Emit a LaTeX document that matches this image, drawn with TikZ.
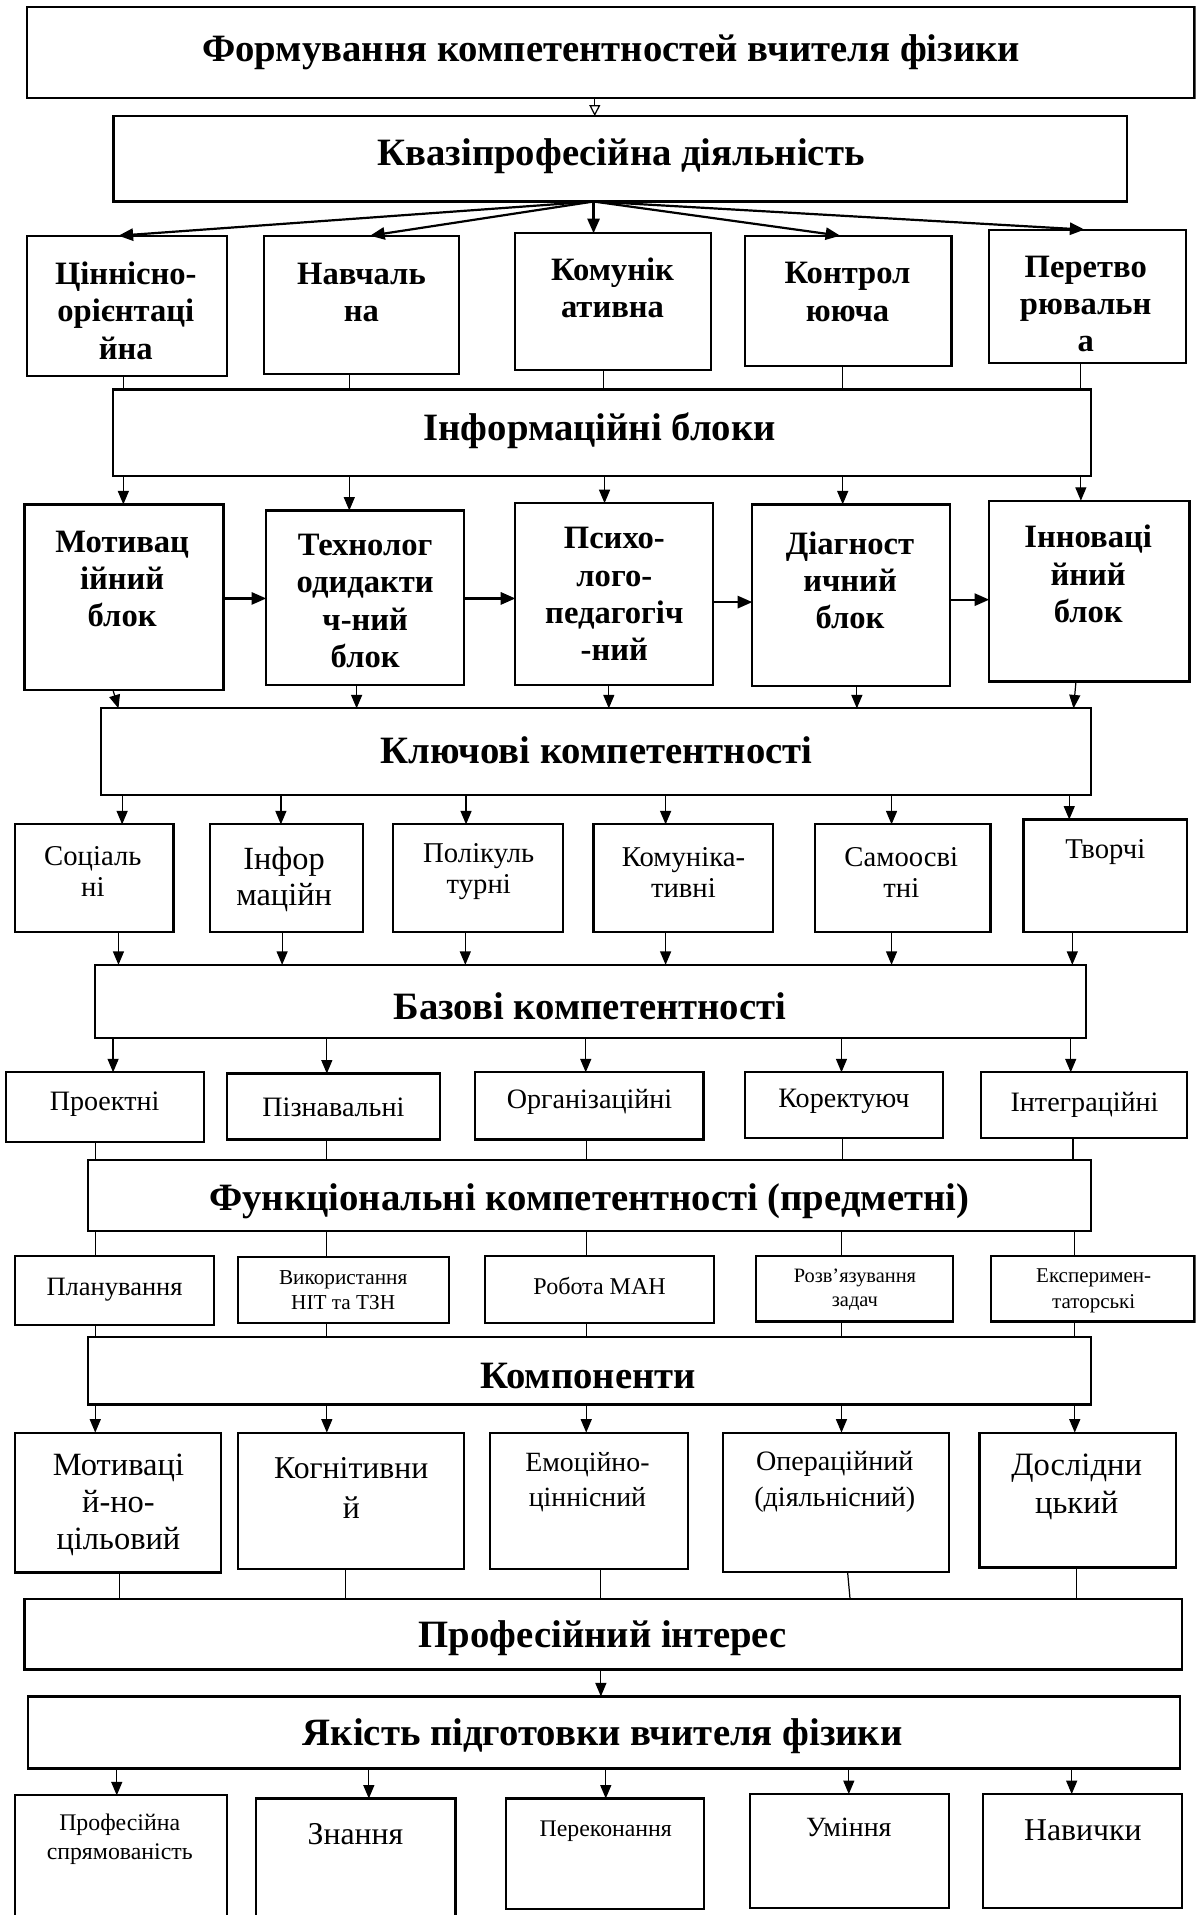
\documentclass[tikz,border=0pt]{standalone}
\usepackage{fontspec}
\setmainfont{Liberation Serif}
\usetikzlibrary{arrows.meta}
\newcommand\bx[5]{\node[box,anchor=north west,minimum width={#4-#2},minimum height={#5-#3}] (#1) at (#2,#3) {};}
\newcommand\fs[2]{\fontsize{#1}{#2}\selectfont}
\begin{document}
\begin{tikzpicture}[x=1pt,y=-1pt,
  box/.style={draw,line width=1.8pt,inner sep=0pt,outer sep=0pt},
  con/.style={line width=1pt},
  arr/.style={line width=1pt,-{Triangle[length=11pt,width=9pt]}},
  tarr/.style={line width=1.8pt,-{Triangle[length=12pt,width=10pt]}},
  oarr/.style={line width=1pt,-{Triangle[open,length=9pt,width=9pt]}},
  hd/.style={font=\fs{31.7}{38}\bfseries,inner sep=0pt},
  bt/.style={font=\fs{26.7}{30.5}\bfseries,align=center,inner sep=0pt},
  nt/.style={align=center,inner sep=0pt}]
\useasboundingbox (0,0) rectangle (979,1568);
\clip (0,0) rectangle (979,1568);
% header boxes
\bx{title}{22}{6}{978}{80}
\bx{kvazi}{93}{95}{923}{165}
\bx{info}{92.5}{319}{893}{390}
\bx{key}{83}{580}{893}{651}
\bx{base}{78}{790}{889}{850}
\bx{func}{72}{949.5}{893}{1008}
\bx{comp}{72}{1095}{893}{1150}
\bx{prof}{20}{1309}{968}{1367}
\bx{qual}{23}{1389}{966}{1448}
\node[hd] (titlet) at (500.5,43) {Формування компетентностей вчителя фізики};
\node[hd] (kvazit) at (508.5,128) {Квазіпрофесійна діяльність};
\node[hd] (infot) at (491,353) {Інформаційні блоки};
\node[hd] (keyt) at (488.5,614) {Ключові компетентності};
\node[hd] (baset) at (483,824) {Базові компетентності};
\node[hd] (funct) at (482.5,983.6) {Функціональні компетентності (предметні)};
\node[hd] (compt) at (481.5,1127) {Компоненти};
\node[hd] (proft) at (493.5,1341) {Професійний інтерес};
\node[hd] (qualt) at (493.5,1421.6) {Якість підготовки вчителя фізики};
% row 2
\bx{c1}{22}{193}{186}{308}
\bx{c2}{216}{193}{376}{306}
\bx{c3}{422}{191}{582}{303}
\bx{c4}{610}{193}{779}{300}
\bx{c5}{810}{188}{971}{297}
\node[bt] (c1t) at (103,254.5) {Ціннісно-\\орієнтаці\\йна};
\node[bt] (c2t) at (296,239.5) {Навчаль\\на};
\node[bt] (c3t) at (501.5,235.5) {Комунік\\ативна};
\node[bt] (c4t) at (694,239) {Контрол\\ююча};
\node[bt] (c5t) at (889,249) {Перетво\\рювальн\\а};
% row 4
\bx{m1}{20}{413}{183}{565}
\bx{m2}{218}{418}{380}{561}
\bx{m3}{422}{412}{584}{561}
\bx{m4}{616}{413}{778}{562}
\bx{m5}{810}{410}{974}{558}
\node[bt] (m1t) at (100,474) {Мотивац\\ійний\\блок};
\node[bt] (m2t) at (299,492) {Технолог\\одидакти\\ч-ний\\блок};
\node[bt] (m3t) at (503,486.5) {Психо-\\лого-\\педагогіч\\-ний};
\node[bt] (m4t) at (696,475) {Діагност\\ичний\\блок};
\node[bt] (m5t) at (891,470) {Інноваці\\йний\\блок};
% row 5
\bx{k1}{12.5}{675}{142}{763}
\bx{k2}{172}{675}{297}{763}
\bx{k3}{322}{675}{461}{763}
\bx{k4}{486}{675}{633}{763}
\bx{k5}{667}{675}{811}{763}
\bx{k6}{838}{671}{972}{763}
\node[nt,font=\fs{23.5}{25.5}] (k1t) at (76,713.5) {Соціаль\\ні};
\node[nt,font=\fs{26.5}{30}] (k2t) at (232.6,720) {Інфор\\маційн};
\node[nt,font=\fs{23.5}{25.5}] (k3t) at (392,714) {Полікуль\\турні};
\node[nt,font=\fs{23.5}{25.5}] (k4t) at (559.6,714.5) {Комуніка-\\тивні};
\node[nt,font=\fs{23.5}{25.5}] (k5t) at (738,714.5) {Самоосві\\тні};
\node[nt,font=\fs{23.5}{25.5}] (k6t) at (905,698) {Творчі};
% row 6
\bx{b1}{5}{878}{167}{935}
\bx{b2}{186}{879}{360}{933}
\bx{b3}{389}{878}{576}{933}
\bx{b4}{610}{878}{772}{932}
\bx{b5}{803.5}{878}{972}{932}
\node[nt,font=\fs{23}{25}] (b1t) at (85.6,904.5) {Проектні};
\node[nt,font=\fs{23}{25}] (b2t) at (273,907) {Пізнавальні};
\node[nt,font=\fs{23}{25}] (b3t) at (482.7,902) {Організаційні};
\node[nt,font=\fs{23}{25}] (b4t) at (691,902) {Коректуюч};
\node[nt,font=\fs{23}{25}] (b5t) at (888,904.5) {Інтеграційні};
% row 7
\bx{f1}{12.5}{1028.6}{175}{1084.6}
\bx{f2}{195}{1029}{367.6}{1083}
\bx{f3}{397}{1028.6}{584.6}{1083}
\bx{f4}{619}{1028.6}{780.5}{1082}
\bx{f5}{811.7}{1028.6}{978}{1082}
\node[nt,font=\fs{21.7}{25}] (f1t) at (93.8,1056) {Планування};
\node[nt,font=\fs{17.4}{20.7}] (f2t) at (281,1056.4) {Використання\\НІТ та ТЗН};
\node[nt,font=\fs{19.7}{23}] (f3t) at (491,1053) {Робота МАН};
\node[nt,font=\fs{16.7}{20}] (f4t) at (700,1056) {Розв’язування\\задач};
\node[nt,font=\fs{17.2}{21}] (f5t) at (895.5,1057) {Експеримен-\\таторські};
% row 8
\bx{p1}{12.5}{1173}{181}{1287.6}
\bx{p2}{195}{1173}{380}{1285}
\bx{p3}{401.5}{1173}{563}{1285}
\bx{p4}{592}{1173}{777}{1287}
\bx{p5}{802}{1173}{963}{1283.5}
\node[nt,font=\fs{26.6}{30.2}] (p1t) at (97,1232) {Мотиваці\\й-но-\\цільовий};
\node[nt,font=\fs{26}{32.8}] (p2t) at (287.6,1218) {Когнітивни\\й};
\node[nt,font=\fs{22.8}{29}] (p3t) at (481,1213.5) {Емоційно-\\ціннісний};
\node[nt,font=\fs{23}{29}] (p4t) at (683.5,1213.5) {Операційний\\(діяльнісний)};
\node[nt,font=\fs{26.7}{31.5}] (p5t) at (881.6,1217.4) {Дослідни\\цький};
% row 9
\bx{q1}{12.5}{1470}{186}{1580}
\bx{q2}{209.5}{1472.6}{373}{1580}
\bx{q3}{414.6}{1472.6}{576.6}{1563}
\bx{q4}{614}{1469}{777}{1562}
\bx{q5}{804.7}{1469}{968}{1562}
\node[nt,font=\fs{19.5}{24.5}] (q1t) at (98,1506) {Професійна\\спрямованість};
\node[nt,font=\fs{26}{30}] (q2t) at (291,1502) {Знання};
\node[nt,font=\fs{19.5}{24}] (q3t) at (496,1499) {Переконання};
\node[nt,font=\fs{22.8}{26}] (q4t) at (695,1496) {Уміння};
\node[nt,font=\fs{26}{30}] (q5t) at (886.6,1499) {Навички};
% connectors
\draw[oarr] (title.south -| 487,0) -- (kvazi.north -| 487,0);
\draw[tarr] (kvazi.south -| 486,0) -- (c1.north -| 97,0);
\draw[tarr] (kvazi.south -| 486,0) -- (c2.north -| 303,0);
\draw[tarr] (kvazi.south -| 486,0) -- (c3.north -| 486,0);
\draw[tarr] (kvazi.south -| 486,0) -- (c4.north -| 688,0);
\draw[tarr] (kvazi.south -| 486,0) -- (c5.north -| 888,0);
\foreach \n/\x in {c1/101,c2/286,c3/494,c4/690,c5/885}
  \draw[con] (\n.south -| \x,0) -- (info.north -| \x,0);
\foreach \n/\x in {m1/101,m2/286,m3/495,m4/690,m5/885}
  \draw[arr] (info.south -| \x,0) -- (\n.north -| \x,0);
\draw[tarr] (m1.east |- 0,490) -- (m2.west |- 0,490);
\draw[tarr] (m2.east |- 0,490) -- (m3.west |- 0,490);
\draw[tarr] (m3.east |- 0,493) -- (m4.west |- 0,493);
\draw[tarr] (m4.east |- 0,491) -- (m5.west |- 0,491);
\draw[arr] (m1.south -| 92.5,0) -- (key.north -| 97,0);
\draw[arr] (m2.south -| 292,0) -- (key.north -| 292,0);
\draw[arr] (m3.south -| 498.5,0) -- (key.north -| 498.5,0);
\draw[arr] (m4.south -| 701.6,0) -- (key.north -| 701.6,0);
\draw[arr] (m5.south -| 881,0) -- (key.north -| 879,0);
\foreach \n/\x in {k1/100,k2/230,k3/381.6,k4/545,k5/730,k6/875.5}
  \draw[arr] (key.south -| \x,0) -- (\n.north -| \x,0);
\foreach \n/\x in {k1/97,k2/231,k3/381,k4/545,k5/730,k6/878}
  \draw[arr] (\n.south -| \x,0) -- (base.north -| \x,0);
\foreach \n/\x in {b1/92.6,b2/267.6,b3/479.6,b4/689,b5/876.7}
  \draw[arr] (base.south -| \x,0) -- (\n.north -| \x,0);
\foreach \n/\x in {b1/78,b2/267.6,b3/480,b4/690,b5/878.6}
  \draw[con] (\n.south -| \x,0) -- (func.north -| \x,0);
\foreach \n/\x in {f1/78,f2/267.6,f3/480,f4/689,f5/879.6}
  \draw[con] (func.south -| \x,0) -- (\n.north -| \x,0);
\foreach \n/\x in {f1/78,f2/267.6,f3/480,f4/689,f5/879.6}
  \draw[con] (\n.south -| \x,0) -- (comp.north -| \x,0);
\foreach \n/\x in {p1/78,p2/267.6,p3/480,p4/689,p5/880}
  \draw[arr] (comp.south -| \x,0) -- (\n.north -| \x,0);
\draw[con] (p1.south -| 98,0) -- (prof.north -| 98,0);
\draw[con] (p2.south -| 282.6,0) -- (prof.north -| 282.6,0);
\draw[con] (p3.south -| 492,0) -- (prof.north -| 492,0);
\draw[con] (p4.south -| 694,0) -- (prof.north -| 696,0);
\draw[con] (p5.south -| 881.6,0) -- (prof.north -| 881.6,0);
\draw[arr] (prof.south -| 492,0) -- (qual.north -| 492,0);
\foreach \n/\x in {q1/95.6,q2/302,q3/496,q4/695,q5/877.5}
  \draw[arr] (qual.south -| \x,0) -- (\n.north -| \x,0);
\end{tikzpicture}
\end{document}
